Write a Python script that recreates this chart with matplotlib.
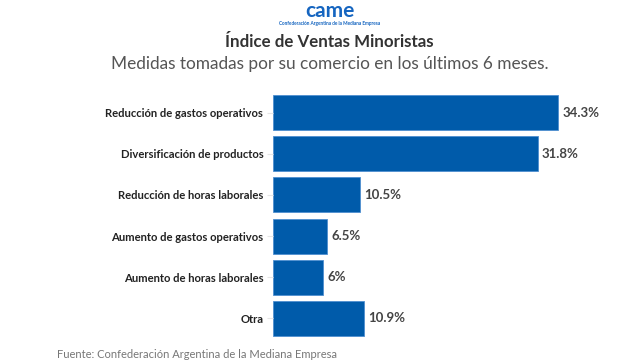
import matplotlib.pyplot as plt

plt.rcParams['font.family'] = ['Lato', 'DejaVu Sans']

categorias = ['Reducción de gastos operativos', 'Diversificación de productos',
              'Reducción de horas laborales', 'Aumento de gastos operativos',
              'Aumento de horas laborales', 'Otra']
valores = [34.3, 31.8, 10.5, 6.5, 6.0, 10.9]
etiquetas = ['34.3%', '31.8%', '10.5%', '6.5%', '6%', '10.9%']

fig = plt.figure(figsize=(6.4, 3.62), dpi=100)
ax = fig.add_axes([0.4266, 0.0635, 0.52, 0.6825])

y = range(len(categorias))
ax.barh(y, valores, height=0.85, color='#005BAA', edgecolor='#4f8fd0', linewidth=0.6)
for i, (v, t) in enumerate(zip(valores, etiquetas)):
    ax.text(v + 0.5, i, t, va='center', ha='left', fontsize=9.5,
            fontweight='bold', color='#444444')

ax.set_yticks(list(y))
ax.set_yticklabels(categorias, fontsize=8.1, fontweight='bold', color='#222222')
ax.invert_yaxis()
ax.set_ylim(5.5, -0.5)
ax.set_xlim(0, 40)
ax.set_xticks([])
ax.tick_params(axis='y', length=4, color='#e6e6e6', pad=3)
for s in ax.spines.values():
    s.set_visible(False)

# logo y cabecera
cx = 0.515
fig.text(cx, 0.998, 'came', ha='center', va='top', fontsize=15,
         fontweight='bold', color='#1565c0')
fig.text(cx, 0.934, 'Confederación Argentina de la Mediana Empresa', ha='center',
         va='center', fontsize=3.4, fontweight='bold', color='#1565c0')
fig.text(cx, 0.884, 'Índice de Ventas Minoristas', ha='center', va='center',
         fontsize=12.2, fontweight='bold', color='#333333')
fig.text(cx, 0.823, 'Medidas tomadas por su comercio en los últimos 6 meses.',
         ha='center', va='center', fontsize=12.4, color='#555555')
fig.text(0.089, 0.006, 'Fuente: Confederación Argentina de la Mediana Empresa',
         ha='left', va='bottom', fontsize=8, color='#777777')

fig.savefig('out.png', dpi=100)
